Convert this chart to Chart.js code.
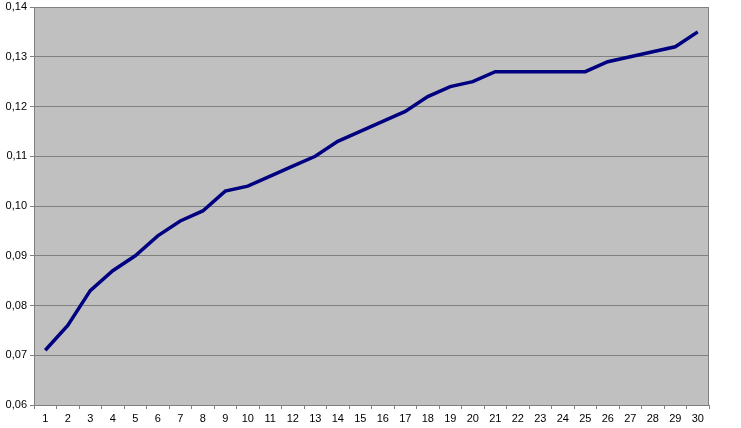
<!DOCTYPE html>
<html>
<head>
<meta charset="utf-8">
<script src="https://cdn.jsdelivr.net/npm/chart.js@4"></script>
<style>
  html, body { margin: 0; padding: 0; background: #fff; }
  #wrap { width: 741px; height: 428px; }
</style>
</head>
<body>
<div id="wrap"><canvas id="lineChart"></canvas></div>
<script>
const labels = ["1", "2", "3", "4", "5", "6", "7", "8", "9", "10", "11", "12", "13", "14", "15",
                "16", "17", "18", "19", "20", "21", "22", "23", "24", "25", "26", "27", "28", "29", "30"];
const values = [0.071, 0.076, 0.083, 0.087, 0.090, 0.094, 0.097, 0.099, 0.103, 0.104,
                0.106, 0.108, 0.110, 0.113, 0.115, 0.117, 0.119, 0.122, 0.124, 0.125,
                0.127, 0.127, 0.127, 0.127, 0.127, 0.129, 0.130, 0.131, 0.132, 0.135];
const yMin = 0.06;
const yMax = 0.14;
const yStep = 0.01;

// grey plot area with a frame round it
const plotBackground = {
  id: 'plotBackground',
  beforeDraw(chart) {
    const { ctx, chartArea: a } = chart;
    ctx.save();
    ctx.fillStyle = '#c0c0c0';
    ctx.fillRect(a.left, a.top, a.right - a.left, a.bottom - a.top);
    ctx.restore();
  },
  afterDatasetsDraw(chart) {
    const { ctx, chartArea: a } = chart;
    ctx.save();
    ctx.strokeStyle = '#808080';
    ctx.lineWidth = 1;
    ctx.strokeRect(a.left + 0.5, a.top + 0.5, a.right - a.left - 1, a.bottom - a.top);
    ctx.restore();
  }
};

document.addEventListener('DOMContentLoaded', function () {
  const ctx = document.getElementById('lineChart').getContext('2d');

  const config = {
    type: 'line',
    data: {
      labels: labels,
      datasets: [{
        data: values,
        borderColor: '#000080',
        borderWidth: 3.5,
        pointRadius: 0,
        tension: 0,
        fill: false
      }]
    },
    options: {
      responsive: true,
      maintainAspectRatio: false,
      animation: false,
      layout: { padding: { top: 7, right: 32, left: 0, bottom: 0 } },
      plugins: {
        legend: { display: false },
        title: { display: false },
        tooltip: { enabled: false }
      },
      scales: {
        x: {
          offset: true,
          grid: {
            offset: true,
            display: true,
            drawOnChartArea: false,
            drawTicks: true,
            tickLength: 4,
            color: '#808080'
          },
          border: { display: true, color: '#808080' },
          ticks: {
            color: '#000',
            padding: 3,
            maxRotation: 0,
            autoSkip: false,
            font: { family: 'Liberation Sans, Arial', size: 11 }
          },
          afterFit(scale) { scale.height = 23; }
        },
        y: {
          min: yMin,
          max: yMax,
          grid: {
            display: true,
            drawOnChartArea: true,
            drawTicks: true,
            tickLength: 4,
            color: '#808080'
          },
          border: { display: true, color: '#808080' },
          ticks: {
            stepSize: yStep,
            color: '#000',
            padding: 3,
            font: { family: 'Liberation Sans, Arial', size: 11 },
            callback: function (value) { return value.toFixed(2).replace('.', ','); }
          },
          afterFit(scale) {
            scale.width = 34;
            scale.paddingTop = 0;
            scale.paddingBottom = 0;
          }
        }
      }
    },
    plugins: [plotBackground]
  };

  const myChart = new Chart(ctx, config);
});
</script>
</body>
</html>
